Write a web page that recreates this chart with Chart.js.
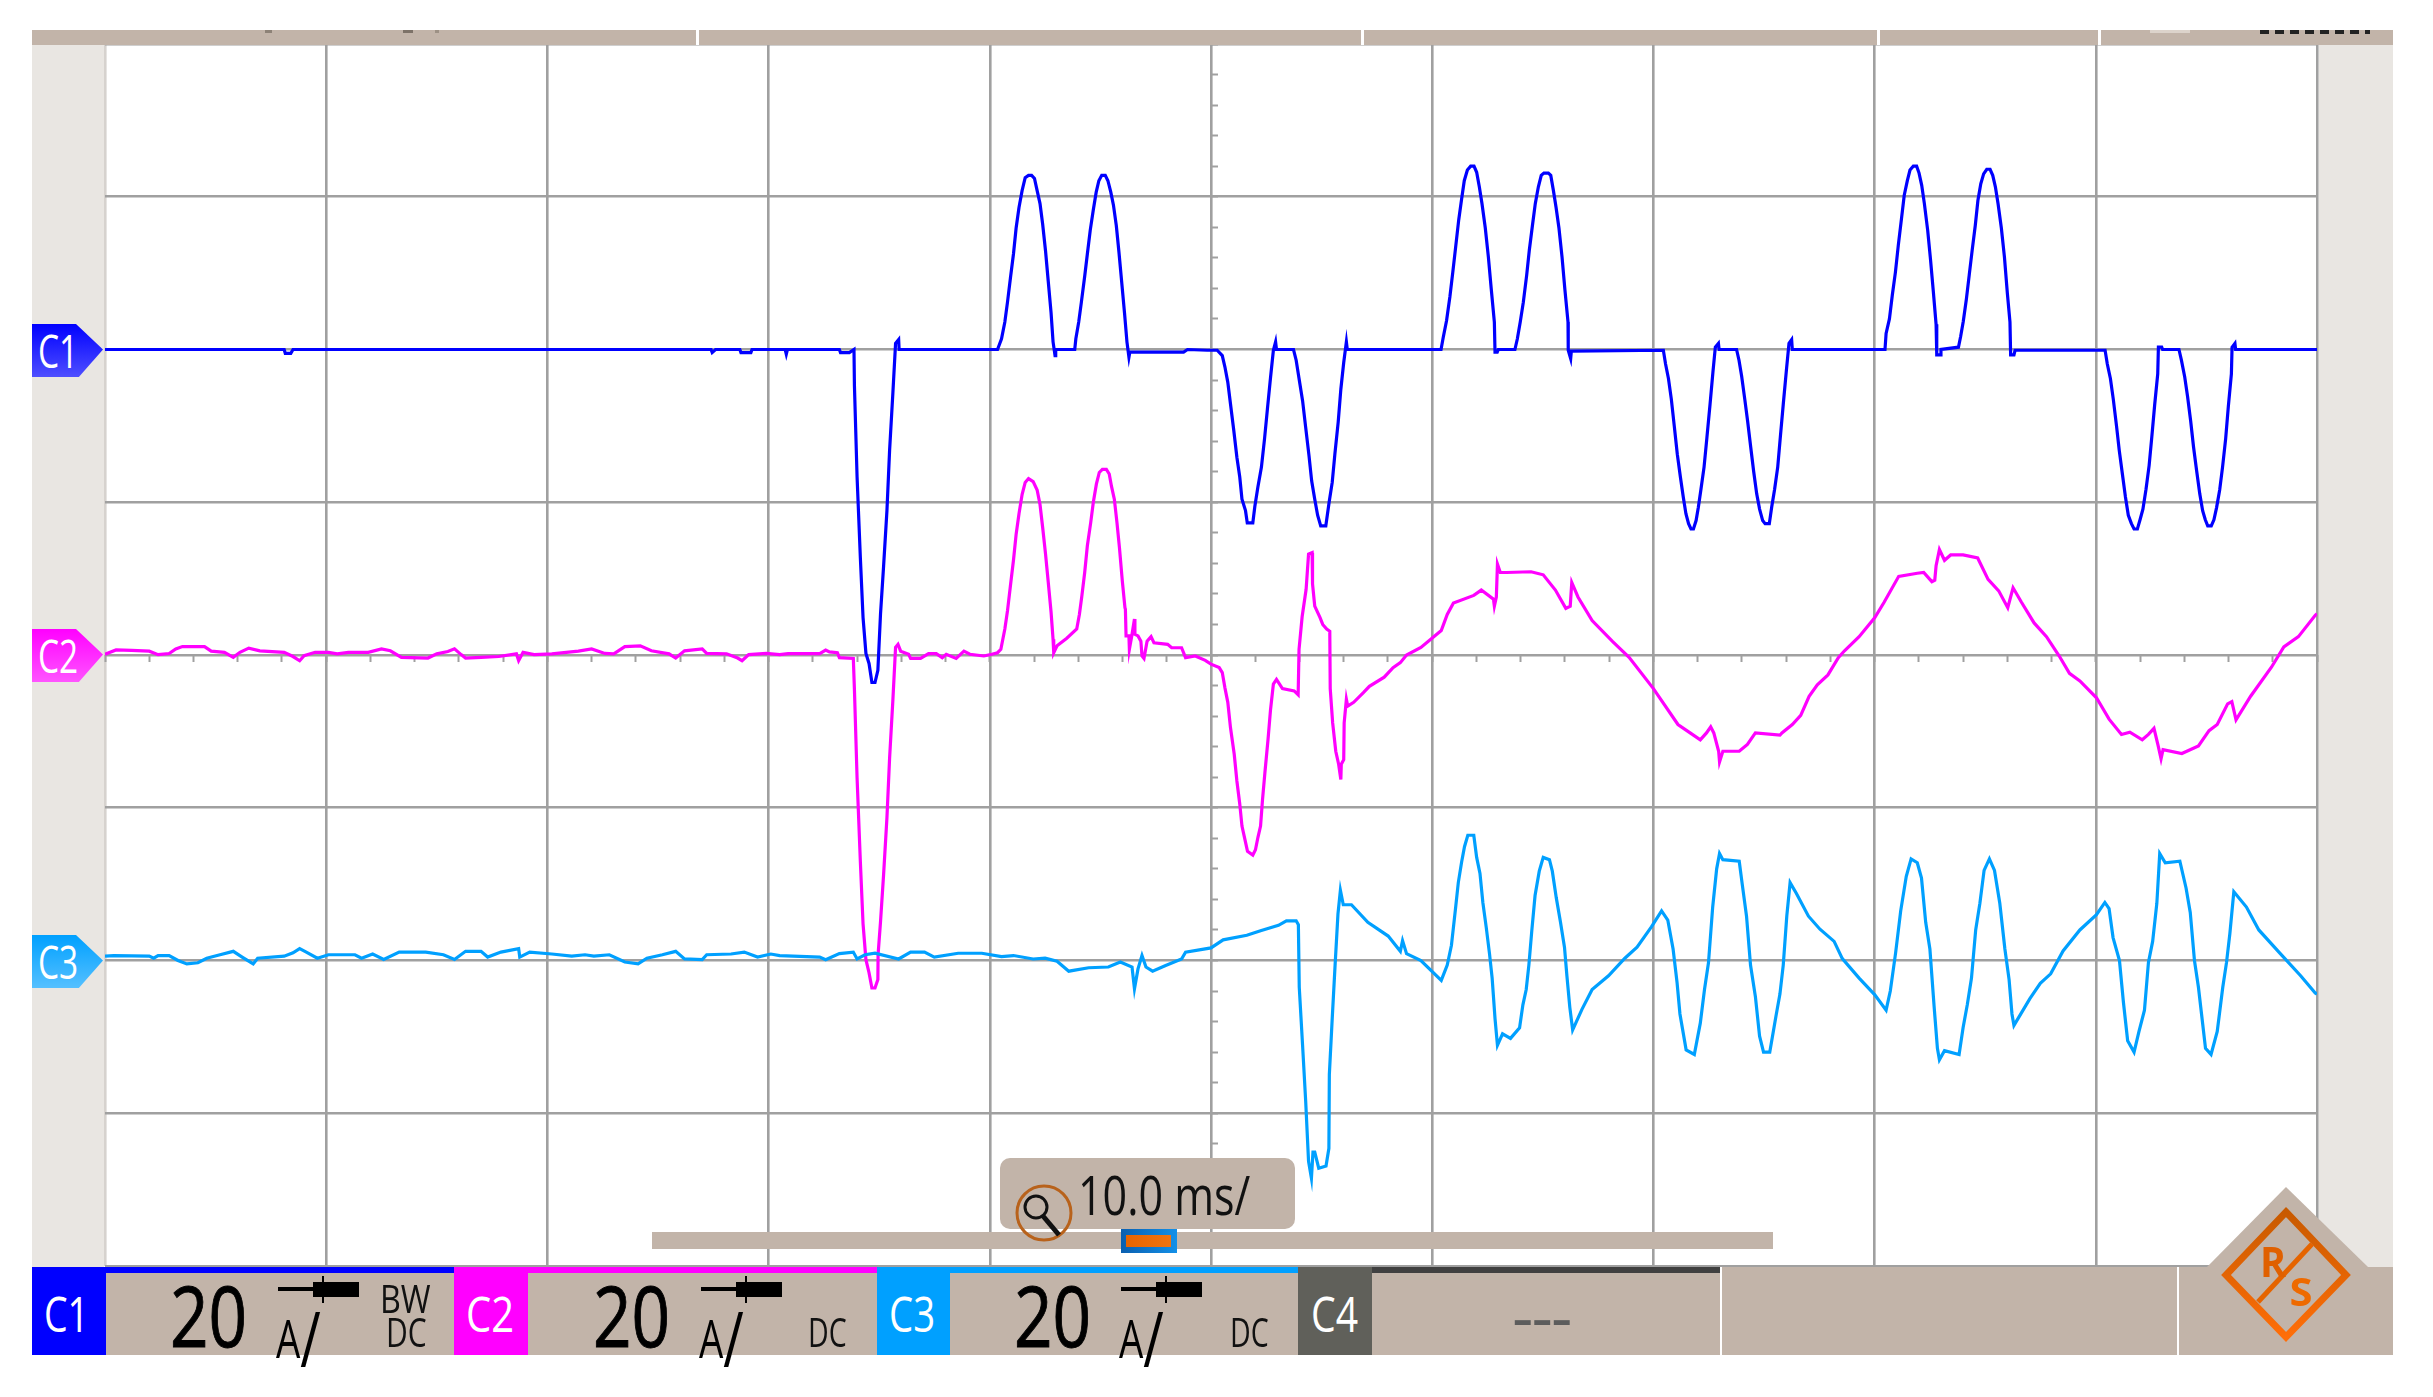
<!DOCTYPE html>
<html>
<head>
<meta charset="utf-8">
<title>Oscilloscope capture</title>
<script src="https://cdn.jsdelivr.net/npm/chart.js@4/dist/chart.umd.min.js"></script>
<style>
    html, body { margin: 0; padding: 0; background: #fff; }
    #stage { position: relative; width: 2433px; height: 1397px; overflow: hidden; font-family: "Open Sans", sans-serif; }
    #scope { position: absolute; left: 0; top: 0; }
    .box { position: absolute; }
    .label { position: absolute; white-space: nowrap; line-height: 1; transform-origin: left top; }
    svg { position: absolute; left: 0; top: 0; }
</style>
</head>
<body>
<div id="stage">
    <canvas id="scope" width="2433" height="1397"></canvas>
</div>
<script>
// time in ms, current in A
const timeTicks = [-50, -40, -30, -20, -10, 0, 10, 20, 30, 40, 50];
const ampsPerDiv = 20;
const channelNames = ['C1', 'C2', 'C3'];

const c1Trace = [[-50,0],[-41.9,0],[-41.85,-0.5],[-41.6,-0.5],[-41.5,0],[-22.6,0],[-22.55,-0.4],[-22.4,0],[-21.3,0],[-21.25,-0.4],[-20.8,-0.4],[-20.75,0],[-19.25,0],[-19.2,-0.6],[-19.15,0],[-16.8,0],[-16.75,-0.4],[-16.35,-0.4],[-16.14,0],
    [-16.12,-4.7],[-16,-16.7],[-15.85,-27.4],[-15.73,-35.1],[-15.6,-39.8],[-15.46,-41.1],[-15.33,-43.6],[-15.19,-43.6],[-15.06,-42],[-14.94,-34.6],[-14.8,-28.3],[-14.65,-21.1],[-14.53,-13.2],[-14.38,-5.6],[-14.26,0.8],[-14.12,1.3],[-14.1,0],
    [-9.65,0],[-9.47,1.4],[-9.32,3.6],[-9.2,6.2],[-9.07,9.3],[-8.93,12.5],[-8.81,15.9],[-8.68,18.6],[-8.54,20.8],[-8.4,22.5],[-8.25,22.8],[-8.11,22.8],[-7.98,22.4],[-7.86,20.8],[-7.73,19.1],[-7.61,16.4],[-7.48,12.9],[-7.36,9],[-7.23,4.8],[-7.14,1],[-7.05,-0.8],[-7.02,0],
    [-6.16,0],[-6.11,1.4],[-5.98,3.6],[-5.86,6.2],[-5.71,9.6],[-5.59,12.5],[-5.46,15.6],[-5.32,18.3],[-5.19,20.6],[-5.07,22.1],[-4.94,22.8],[-4.78,22.8],[-4.66,22.1],[-4.53,20.6],[-4.41,18.9],[-4.28,16.2],[-4.16,12.7],[-4.03,8.6],[-3.91,4.8],[-3.8,1],[-3.71,-1],[-3.67,-0.35],
    [-1.24,-0.35],[-1.06,0],[-0.17,-0.1],[0.28,-0.1],[0.51,-0.8],[0.63,-2.3],[0.76,-4.3],[0.88,-7.1],[1.03,-10.6],[1.17,-14.1],[1.3,-16.7],[1.4,-19.6],[1.56,-21.1],[1.64,-22.7],[1.89,-22.7],[1.98,-20.6],[2.12,-18],[2.28,-15.4],[2.42,-11.7],[2.55,-7.8],[2.69,-3.7],[2.82,-0.1],[2.92,1],[2.96,0],
    [3.73,0],[3.85,-1.4],[3.98,-3.8],[4.14,-6.7],[4.28,-10.2],[4.43,-13.9],[4.55,-17.2],[4.69,-19.6],[4.82,-21.7],[4.96,-23.1],[5.19,-23.1],[5.34,-20],[5.48,-17.4],[5.6,-13.7],[5.75,-9.5],[5.87,-5.2],[6,-1.7],[6.12,1],[6.16,0],
    [10.4,0],[10.5,1.6],[10.65,3.8],[10.8,6.9],[10.93,10.1],[11.06,13.4],[11.2,17],[11.33,19.7],[11.45,22.1],[11.59,23.5],[11.74,24],[11.89,24],[12.01,23.2],[12.13,21.3],[12.25,19.1],[12.4,15.9],[12.54,12.1],[12.67,7.9],[12.81,3.6],[12.84,-0.35],[12.94,-0.35],[12.99,0],
    [13.74,0],[13.85,1.4],[13.98,3.6],[14.12,6.2],[14.27,9.7],[14.39,13],[14.53,16.2],[14.66,19.1],[14.8,21.3],[14.93,22.8],[15.05,23.1],[15.25,23.1],[15.36,22.8],[15.48,20.8],[15.6,18.6],[15.73,15.9],[15.87,12.1],[16,7.8],[16.14,3.6],[16.15,-0.1],[16.26,-1.2],[16.29,-0.2],
    [20.45,-0.1],[20.55,-1.9],[20.68,-3.8],[20.81,-6.5],[20.95,-10.2],[21.08,-13.7],[21.22,-16.7],[21.35,-19.3],[21.47,-21.5],[21.59,-22.8],[21.7,-23.5],[21.81,-23.5],[21.93,-22.4],[22.03,-20.7],[22.15,-18.3],[22.29,-15.4],[22.42,-11.5],[22.56,-7.2],[22.69,-3],[22.8,0.3],[22.94,0.8],[22.97,0],
    [23.76,0],[23.87,-1.4],[23.99,-3.5],[24.13,-6.5],[24.26,-9.4],[24.4,-12.8],[24.53,-15.9],[24.67,-18.9],[24.8,-20.9],[24.94,-22.4],[25.05,-22.8],[25.24,-22.8],[25.35,-20.6],[25.48,-18.3],[25.62,-15.4],[25.74,-11.4],[25.87,-7.2],[26.01,-2.8],[26.13,0.8],[26.25,1.3],[26.28,0],
    [30.47,0],[30.52,2.1],[30.67,4],[30.8,7.1],[30.94,10.1],[31.07,13.6],[31.21,17],[31.34,20.2],[31.48,22.1],[31.6,23.5],[31.75,24],[31.9,24],[32.01,23.1],[32.13,21.5],[32.25,19.1],[32.4,15.6],[32.53,11.7],[32.66,7.4],[32.78,3.3],[32.81,-0.7],[32.96,-0.7],[33,0],
    [33.79,0.3],[33.89,1.7],[34.01,3.7],[34.15,6.6],[34.28,9.8],[34.42,13.2],[34.55,16.2],[34.67,19.5],[34.8,21.7],[34.93,23],[35.07,23.6],[35.22,23.6],[35.34,22.8],[35.46,21.3],[35.58,19.1],[35.73,15.9],[35.87,12.1],[36,7.4],[36.12,3.6],[36.15,-0.7],[36.3,-0.7],[36.35,-0.1],
    [40.42,-0.1],[40.52,-1.9],[40.66,-3.8],[40.79,-6.5],[40.94,-10.1],[41.06,-13.2],[41.22,-16.7],[41.34,-19.3],[41.47,-21.7],[41.61,-22.8],[41.73,-23.5],[41.88,-23.5],[42,-22.3],[42.13,-20.9],[42.27,-18.3],[42.41,-15.2],[42.53,-11.5],[42.66,-7.3],[42.8,-3.2],[42.83,0.3],[42.98,0.3],[43.02,0],
    [43.76,0],[43.87,-1.4],[44.02,-3.6],[44.15,-6.2],[44.29,-9.4],[44.42,-12.8],[44.56,-15.9],[44.7,-18.9],[44.83,-21.1],[44.95,-22.3],[45.06,-23.1],[45.22,-23.1],[45.34,-22.3],[45.46,-20.7],[45.6,-18.4],[45.73,-15.4],[45.87,-11.7],[45.99,-7.5],[46.13,-3.2],[46.16,0.3],[46.29,0.8],[46.32,0],[50,0]];

const c2Trace = [[-50,0.1],[-49.5,0.66],[-48.8,0.6],[-48,0.5],[-47.6,0.05],[-47.1,0.2],[-46.8,0.8],[-46.5,1.1],[-45.9,1.1],[-45.5,1.1],[-45.2,0.5],[-44.6,0.35],[-44.2,-0.3],[-43.9,0.35],[-43.5,0.9],[-43,0.55],[-41.9,0.35],[-41.5,-0.2],[-41.2,-0.75],[-41,-0.1],[-40.5,0.35],[-39.9,0.35],[-39.5,0.15],[-39,0.35],[-38.1,0.35],[-37.5,0.8],[-37.1,0.55],[-36.6,-0.3],[-35.4,-0.4],[-35,0.15],[-34.5,0.45],[-34.2,0.8],[-33.9,0.05],[-33.7,-0.4],[-33,-0.3],[-32.2,-0.2],[-31.4,0.15],[-31.3,-0.75],[-31.1,0.35],[-30.6,0.05],[-29.8,0.15],[-28.6,0.5],[-28,0.8],[-27.4,0.2],[-27,0.15],[-26.5,1.1],[-25.8,1.2],[-25.3,0.55],[-24.5,0.15],[-24.2,-0.4],[-23.8,0.55],[-23,0.8],[-22.8,0.2],[-21.9,0.15],[-21.4,-0.4],[-21.2,-0.75],[-20.9,0.05],[-20.1,0.2],[-19.5,0.05],
    [-19.12,0.17],[-17.69,0.17],[-17.42,0.65],[-17.25,0.4],[-16.89,0.3],[-16.8,-0.35],[-16.17,-0.45],[-16.12,-4.5],[-16,-16.1],[-15.85,-27.2],[-15.73,-35.2],[-15.6,-39.9],[-15.46,-41.6],[-15.33,-43.6],[-15.19,-43.6],[-15.06,-42.5],[-15.05,-39.2],[-14.94,-34.9],[-14.8,-28.7],[-14.65,-21.3],[-14.53,-13.5],[-14.38,-5.8],[-14.26,1],[-14.15,1.4],[-14.03,0.5],[-13.67,0.1],[-13.58,-0.45],[-13.13,-0.45],[-12.77,0.17],[-12.42,0.17],[-12.15,-0.35],[-11.97,0.1],[-11.52,-0.45],[-11.17,0.5],[-10.9,0.1],[-10.27,-0.13],[-9.91,0.1],[-9.65,0.3],[-9.5,0.75],[-9.32,3.4],[-9.2,5.8],[-9.07,9],
    [-8.93,12.4],[-8.81,15.8],[-8.68,18.5],[-8.54,21],[-8.4,22.6],[-8.25,23.1],[-8.04,22.7],[-7.86,21.6],[-7.73,19.7],[-7.61,16.7],[-7.48,13.2],[-7.36,9.6],[-7.23,5.6],[-7.14,2.05],[-7.11,0.3],[-6.96,1.2],[-6.52,2.2],[-6.07,3.4],[-5.95,5.3],[-5.84,7.7],[-5.71,10.8],[-5.59,14.3],[-5.44,17.3],[-5.32,20],[-5.18,22.4],[-5.05,23.9],[-4.91,24.3],[-4.73,24.3],[-4.6,23.7],[-4.5,22.1],[-4.37,20.4],[-4.25,17.3],[-4.14,14.1],[-4.01,9.7],[-3.89,6.2],[-3.87,6],[-3.84,2.5],[-3.71,2.5],[-3.69,0.75],[-3.57,2.7],[-3.46,4.7],[-3.44,2.7],[-3.3,2.5],[-3.17,1.8],[-3.12,-0.13],[-3.03,-0.45],[-2.89,1.8],[-2.71,2.4],[-2.58,1.6],[-1.96,1.4],[-1.78,0.95],[-1.33,0.95],[-1.15,-0.35],[-0.71,-0.13],[-0.26,-0.7],
    [0,-1.2],[0.37,-1.65],[0.51,-2.3],[0.63,-4.3],[0.76,-6.2],[0.88,-9.5],[1.05,-13],[1.17,-16.5],[1.3,-19.5],[1.4,-22.4],[1.53,-24.1],[1.65,-25.7],[1.89,-26.2],[2.01,-25.5],[2.12,-23.9],[2.24,-22.4],[2.33,-18.9],[2.44,-15.3],[2.58,-11],[2.69,-7.2],[2.82,-3.8],[2.96,-3.2],[3.23,-4.4],[3.76,-4.7],[3.94,-5.2],[3.98,0.75],[4.12,5],[4.3,8.6],[4.41,13.2],[4.57,13.4],[4.59,9.3],[4.69,6.4],[4.93,4.9],[5.05,4],[5.23,3.4],[5.37,3.1],[5.39,-4.4],[5.5,-8.9],[5.64,-12.6],[5.77,-14.3],[5.87,-16.3],[5.89,-14.3],[6,-13.7],[6.02,-8.9],[6.12,-5.8],[6.18,-6.7],[6.45,-6.2],[6.9,-4.9],[7.16,-4.1],[7.83,-2.9],[8.23,-1.65],[8.56,-1],[8.84,0],[9.49,1],[10.41,3.2],[10.68,5.3],[10.96,6.8],[11.88,7.8],[12.22,8.5],[12.77,7.3],[12.81,6.4],[12.9,7.6],[12.95,11.9],[13.08,10.8],[13.36,10.8],[14.47,10.9],[15.02,10.5],[15.57,8.5],[16.04,6.1],[16.24,6.4],[16.31,9.5],[16.59,7.6],[17.23,4.5],[18.16,1.75],[18.9,-0.3],[20,-4.4],[21.11,-9.1],[21.66,-10.2],[22.12,-11.1],[22.4,-10.2],[22.59,-9.4],[22.73,-10.2],[22.95,-12.6],[22.99,-14],[23.14,-12.6],[23.88,-12.6],[24.25,-11.7],[24.61,-10.2],[25.72,-10.5],[25.81,-10.2],[26.28,-9.1],[26.66,-7.9],[27.04,-5.4],[27.41,-3.9],[27.89,-2.6],[28.36,-0.35],[28.64,0.55],[29.3,2.4],[30.01,4.9],[30.43,6.9],[31.09,10.3],[31.93,10.7],[32.22,10.8],[32.59,9.6],[32.72,9.8],[32.78,11.7],[32.93,13.8],[33.16,12.4],[33.44,13.1],[34,13.1],[34.66,12.7],[35.13,9.9],[35.61,8.4],[36.02,6.2],[36.26,8.8],[36.64,6.9],[37.21,4.2],[37.77,2.4],[38.34,-0.1],[38.81,-2.4],[39.28,-3.4],[40.03,-5.6],[40.6,-8.4],[41.16,-10.4],[41.54,-10.1],[42.1,-11.1],[42.38,-10.4],[42.63,-9.6],[42.82,-11.9],[42.95,-13.6],[43.04,-12.4],[43.89,-12.9],[44.64,-11.9],[45.12,-9.9],[45.49,-9.1],[45.96,-6.4],[46.15,-6.1],[46.34,-8.5],[47,-5.4],[47.94,-1.6],[48.5,1.05],[49.16,2.4],[49.92,5.2],[50,5.4]];

const c3Trace = [[-50,0.57],[-49.6,0.65],[-48,0.57],[-47.8,0.3],[-47.6,0.65],[-47.1,0.65],[-46.7,0],[-46.3,-0.45],[-45.8,-0.3],[-45.4,0.3],[-44.8,0.75],[-44.2,1.2],[-43.8,0.45],[-43.3,-0.45],[-43.1,0.3],[-41.9,0.57],[-41.5,1],[-41.2,1.55],[-40.9,1.1],[-40.4,0.3],[-39.9,0.75],[-38.7,0.75],[-38.4,0.3],[-37.9,0.85],[-37.4,0.13],[-36.7,1.1],[-35.5,1.1],[-34.7,0.75],[-34.2,0.13],[-33.7,1.2],[-33,1.2],[-32.7,0.45],[-32.1,1.1],[-31.3,1.55],[-31.25,0.45],[-30.8,1.1],[-29.8,0.85],[-28.9,0.57],[-28.3,0.75],[-27.9,0.57],[-27.2,0.75],[-26.5,-0.2],[-25.9,-0.45],[-25.5,0.3],[-24.8,0.75],[-24.2,1.2],[-23.8,0.2],[-23,0.13],[-22.8,0.75],[-21.7,0.85],[-21.1,1.1],[-20.5,0.45],[-19.9,0.85],[-19.5,0.65],
    [-17.69,0.45],[-17.42,0.1],[-16.8,0.9],[-16.17,1.1],[-16,0.2],[-15.64,0.75],[-15.19,0.95],[-14.12,0.2],[-13.58,1.1],[-12.95,1.1],[-12.51,0.45],[-11.43,0.95],[-10.36,0.95],[-9.47,0.5],[-8.93,0.65],[-8.04,0.2],[-7.5,0.3],[-6.96,-0.1],[-6.43,-1.4],[-5.53,-0.95],[-4.64,-0.85],[-4.1,-0.2],[-3.57,-0.85],[-3.46,-3.7],[-3.3,-1.1],[-3.12,0.65],[-2.94,-0.85],[-2.64,-1.4],[-2.05,-0.65],[-1.33,0.2],[-1.15,1.1],[0,1.65],[0.55,2.7],[1.62,3.3],[2.24,3.9],[3.05,4.6],[3.41,5.2],[3.85,5.2],
    [3.95,4.7],[3.99,-3.5],[4.14,-11.1],[4.28,-18.4],[4.41,-26.3],[4.54,-28.5],[4.61,-25.1],[4.69,-25.1],[4.87,-27.2],[5.2,-26.9],[5.33,-24.6],[5.35,-14.9],[5.48,-7.6],[5.61,-0.6],[5.74,6.1],[5.85,9.2],[5.98,7.3],[6.35,7.3],[7.09,5],[8.01,3.2],[8.56,1.2],[8.66,2.6],[8.84,0.9],[9.49,0],[10.41,-2.6],[10.68,-0.6],[10.87,2],[11.05,6.7],[11.18,10.2],[11.33,12.9],[11.46,14.9],[11.61,16.4],[11.88,16.4],[12.01,13.5],[12.16,11.4],[12.29,7.6],[12.44,4.4],[12.59,0.9],[12.71,-2.3],[12.84,-7.6],[12.95,-11.1],[13.18,-9.6],[13.54,-10.2],[13.95,-8.8],[14.1,-5.8],[14.25,-3.8],[14.37,-0.6],[14.5,3.8],[14.65,8.5],[14.84,11.7],[15.02,13.5],[15.3,13.2],[15.43,11.7],[15.61,8.2],[15.8,5],[15.98,1.75],[16.09,-2],[16.22,-6.1],[16.35,-9.1],[16.77,-6.4],[17.23,-3.8],[17.97,-2],[18.71,0.3],[19.26,1.75],[19.91,4.4],[20.37,6.5],[20.65,5.3],[20.89,1.5],[21.07,-2.9],[21.2,-7],[21.48,-11.7],[21.85,-12.3],[22.12,-8.2],[22.31,-3.8],[22.49,-0.3],[22.68,7],[22.86,12],[22.99,14],[23.14,13.2],[23.88,13],[24.02,9.9],[24.21,5.8],[24.39,-0.6],[24.61,-4.7],[24.8,-9.9],[24.98,-12],[25.26,-12],[25.54,-7.3],[25.72,-4.4],[25.87,-0.6],[26.03,5.8],[26.18,10.2],[26.46,8.8],[27.01,5.8],[27.53,4.1],[28.17,2.5],[28.54,0.25],[29.3,-2.3],[30.01,-4.5],[30.52,-6.5],[30.71,-4],[30.95,1],[31.18,6.5],[31.43,11],[31.65,13.3],[31.93,12.8],[32.12,10.8],[32.31,5],[32.5,1.5],[32.69,-6],[32.84,-11.5],[32.93,-13],[33.16,-11.8],[33.82,-12.3],[34,-8.8],[34.19,-5.8],[34.38,-2.3],[34.57,4],[34.76,7.5],[34.95,11.8],[35.19,13.3],[35.42,11.8],[35.66,7.5],[35.89,1.5],[36.08,-2.5],[36.21,-7],[36.3,-8.5],[37.02,-5],[37.49,-3],[37.96,-1.75],[38.52,1.25],[39.28,4],[40.03,6],[40.41,7.6],[40.6,6.8],[40.78,3],[41.07,0],[41.25,-5.5],[41.44,-10.5],[41.73,-12],[41.95,-9.3],[42.2,-6.5],[42.38,-0.25],[42.57,2.5],[42.76,7.5],[42.89,14],[43.14,12.8],[43.8,13],[44.08,9.5],[44.27,6.3],[44.46,0],[44.64,-3.5],[44.78,-7],[44.96,-11.5],[45.21,-12.3],[45.49,-9.3],[45.74,-3.5],[45.91,-0.25],[46.06,3.5],[46.24,9],[46.81,7],[47.37,4],[48.31,1],[49.26,-2],[49.92,-4.25],[50,-4.4]];

const GRID_COLOR = '#a0a0a0';
const FRAME_COLOR = '#d6d2ce';
const BEIGE = '#c2b4a9';
const SIDE = '#e9e6e2';
const C1_COLOR = '#0000ff';
const C2_COLOR = '#ff00ff';
const C3_COLOR = '#00a0ff';
const C4_COLOR = '#60605a';

function toPoints(trace) {
    return trace.map(p => ({ x: p[0], y: p[1] }));
}

function hiddenAxis(min, max) {
    return { type: 'linear', axis: 'y', display: false, min: min, max: max };
}

// Grid and the centre cross are plain axes so they stay on the same scales as the traces
new Chart(document.getElementById('scope'), {
    type: 'line',
    data: {
        datasets: [
            { label: channelNames[0], data: toPoints(c1Trace), yAxisID: 'yC1', borderColor: C1_COLOR, order: 3 },
            { label: channelNames[1], data: toPoints(c2Trace), yAxisID: 'yC2', borderColor: C2_COLOR, order: 2 },
            { label: channelNames[2], data: toPoints(c3Trace), yAxisID: 'yC3', borderColor: C3_COLOR, order: 1 }
        ]
    },
    options: {
        responsive: false,
        animation: false,
        devicePixelRatio: 1,
        layout: { padding: { left: 105, right: 116, top: 44, bottom: 131 } },
        elements: {
            point: { radius: 0 },
            line: { borderWidth: 3.2, tension: 0, borderJoinStyle: 'miter' }
        },
        plugins: { legend: { display: false }, tooltip: { enabled: false } },
        scales: {
            x: {
                type: 'linear',
                min: timeTicks[0],
                max: timeTicks[timeTicks.length - 1],
                ticks: { display: false, stepSize: 10 },
                border: { display: false },
                grid: {
                    drawTicks: false,
                    lineWidth: 2.6,
                    color: ctx => (ctx.tick && ctx.tick.value === timeTicks[0]) ? FRAME_COLOR : GRID_COLOR
                }
            },
            // each channel has its own zero line, 20 A per division
            yC1: {
                type: 'linear',
                position: 'left',
                min: -120,
                max: 40,
                ticks: { display: false, stepSize: ampsPerDiv },
                border: { display: false },
                grid: { drawTicks: false, lineWidth: 2.6, color: GRID_COLOR }
            },
            yC2: hiddenAxis(-80, 80),
            yC3: hiddenAxis(-40, 120),
            xCentre: {
                type: 'linear',
                axis: 'x',
                position: { yC2: 0 },
                min: timeTicks[0],
                max: timeTicks[timeTicks.length - 1],
                ticks: { display: false, stepSize: 2 },
                border: { display: false },
                grid: { drawOnChartArea: false, tickLength: 7, tickWidth: 2, tickColor: GRID_COLOR }
            },
            yCentre: {
                type: 'linear',
                axis: 'y',
                position: { x: 0 },
                min: -120,
                max: 40,
                ticks: { display: false, stepSize: ampsPerDiv / 5 },
                border: { display: false },
                grid: { drawOnChartArea: false, tickLength: -7, tickWidth: 2, tickColor: GRID_COLOR }
            }
        }
    }
});

// ---- instrument chrome around the plot ----
const stage = document.getElementById('stage');

function addBox(left, top, width, height, background, extra) {
    const el = document.createElement('div');
    el.className = 'box';
    el.style.cssText = `left:${left}px;top:${top}px;width:${width}px;height:${height}px;background:${background};` + (extra || '');
    stage.appendChild(el);
    return el;
}

// baseline + target width, squeezed horizontally because the scope font is condensed
function addLabel(html, left, baseline, width, size, color, weight, stroke) {
    const el = document.createElement('div');
    el.className = 'label';
    el.innerHTML = html;
    el.style.cssText = `left:${left}px;top:${baseline - 0.888 * size}px;font-size:${size}px;color:${color};font-weight:${weight || 400};` +
        (stroke ? `-webkit-text-stroke:${stroke}px ${color};` : '');
    stage.appendChild(el);
    el.style.transform = `scaleX(${width / el.offsetWidth})`;
    return el;
}

// top bar and side panels
addBox(32, 30, 2361, 15, BEIGE);
[696, 1361, 1877, 2098].forEach(x => addBox(x, 30, 3, 15, '#fff'));
addBox(32, 45, 72, 1222, SIDE);
addBox(2319, 45, 74, 1222, SIDE);
addBox(265, 30, 7, 3, '#8d8277');
addBox(403, 30, 10, 3, '#7d7268');
addBox(435, 30, 4, 3, '#9d9185');
addBox(2150, 30, 40, 3, '#dcd3cb');
addBox(2260, 30, 110, 4, 'transparent', 'background:repeating-linear-gradient(90deg,#222 0 9px,transparent 9px 15px);');

// channel markers on the left edge
function addMarker(name, centre, topColor, bottomColor) {
    addBox(32, centre - 26, 71, 53, `linear-gradient(${topColor},${bottomColor})`,
        'clip-path:polygon(0 0,62% 0,100% 48%,66% 100%,0 100%);');
    addLabel(name, 38, centre + 18, 40, 46, '#fff');
}
addMarker('C1', 350, '#0000ff', '#4f4fff');
addMarker('C2', 655, '#ff00ff', '#ff55ff');
addMarker('C3', 961, '#00a0ff', '#55c0ff');

// time base box and scroll bar
addBox(652, 1232, 1121, 17, BEIGE);
addBox(1000, 1158, 295, 71, BEIGE, 'border-radius:10px;');
addBox(1121, 1229, 56, 24, 'linear-gradient(90deg,#0a5fb0,#1390e8)');
addBox(1126, 1235, 45, 12, 'linear-gradient(90deg,#e86400,#f07410)');
addLabel('10.0 ms/', 1078, 1215, 172, 55, '#111');

// bottom channel bar
addBox(32, 1267, 2361, 88, BEIGE);
addBox(106, 1267, 348, 6, C1_COLOR);
addBox(32, 1267, 74, 88, C1_COLOR);
addBox(528, 1267, 349, 6, C2_COLOR);
addBox(454, 1267, 74, 88, C2_COLOR);
addBox(950, 1267, 348, 6, C3_COLOR);
addBox(877, 1267, 73, 88, C3_COLOR);
addBox(1372, 1267, 348, 6, '#404040');
addBox(1298, 1267, 74, 88, C4_COLOR);
addBox(1720, 1267, 2, 88, '#fff');
addBox(2177, 1267, 2, 88, '#fff');

addLabel('C1', 44, 1332, 45, 50, '#fff');
addLabel('C2', 466, 1332, 48, 50, '#fff');
addLabel('C3', 889, 1332, 46, 50, '#fff');
addLabel('C4', 1311, 1332, 47, 50, '#fff');

const SLASH = '<span style="font-size:1.45em;vertical-align:-0.12em;">/</span>';
[170, 593, 1014].forEach(x => addLabel('20', x, 1347, 77, 85, '#000', 400, 1));
[276, 699, 1119].forEach(x => {
    addLabel('A' + SLASH, x, 1347, 45, 53, '#000');
    // trigger/probe glyph above the unit
    addBox(x + 2, 1287, 36, 4, '#000');
    addBox(x + 37, 1282, 46, 15, '#000');
    addBox(x + 46, 1276, 2, 27, '#000');
});
addLabel('BW', 380, 1313, 51, 38, '#111');
addLabel('DC', 386, 1347, 41, 41, '#111');
addLabel('DC', 808, 1347, 39, 41, '#111');
addLabel('DC', 1230, 1347, 39, 41, '#111');
addLabel('---', 1513, 1334, 59, 40, '#5c5c5c', 700);

// magnifier and the R&S logo
const svgNS = 'http://www.w3.org/2000/svg';
const svg = document.createElementNS(svgNS, 'svg');
svg.setAttribute('width', 2433);
svg.setAttribute('height', 1397);
svg.innerHTML = `
  <defs><linearGradient id="logoOrange" x1="0" y1="0" x2="0" y2="1">
    <stop offset="0" stop-color="#c85a00"/><stop offset="1" stop-color="#ff6e08"/>
  </linearGradient></defs>
  <circle cx="1044" cy="1213" r="27" fill="none" stroke="#b8621b" stroke-width="3"/>
  <circle cx="1036" cy="1207" r="11" fill="none" stroke="#111" stroke-width="3"/>
  <line x1="1043" y1="1216" x2="1059" y2="1235" stroke="#111" stroke-width="5"/>
  <polygon points="2286,1187 2368,1267 2207,1267" fill="${BEIGE}"/>
  <polygon points="2286,1212 2346,1275 2286,1337 2226,1275" fill="none" stroke="url(#logoOrange)" stroke-width="7"/>
  <line x1="2312" y1="1244" x2="2258" y2="1302" stroke="#e56400" stroke-width="5"/>
  <text x="2273" y="1277" text-anchor="middle" font-family="Open Sans" font-weight="700" font-size="42" fill="#e06000" textLength="26" lengthAdjust="spacingAndGlyphs">R</text>
  <text x="2301" y="1306" text-anchor="middle" font-family="Open Sans" font-weight="700" font-size="40" fill="#ee6a00" textLength="23" lengthAdjust="spacingAndGlyphs">S</text>`;
stage.appendChild(svg);
</script>
</body>
</html>
